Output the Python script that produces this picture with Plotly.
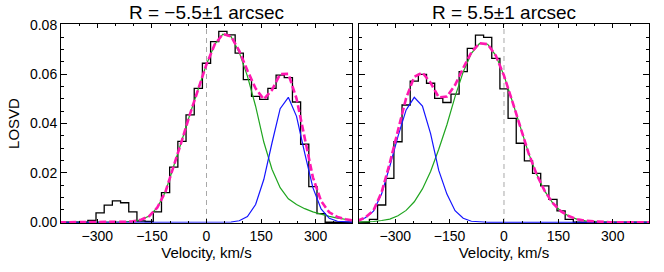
import plotly.graph_objects as go

# Velocity bin centres (km/s)
velocity = [-405.0, -382.5, -360.0, -337.5, -315.0, -292.5, -270.0, -247.5, -225.0,
            -202.5, -180.0, -157.5, -135.0, -112.5, -90.0, -67.5, -45.0, -22.5, 0.0,
            22.5, 45.0, 67.5, 90.0, 112.5, 135.0, 157.5, 180.0, 202.5, 225.0,
            247.5, 270.0, 292.5, 315.0, 337.5, 360.0, 382.5, 405.0]

# Left panel (R = -5.5 arcsec)
left_hist = [0, 0, 0, 0, 0.0008, 0.0038, 0.0069, 0.0087, 0.0079,
             0.0042, 0.0005, 0.0003, 0.0042, 0.0120, 0.0223, 0.0328, 0.0435, 0.0542, 0.0644,
             0.0732, 0.0773, 0.0759, 0.0685, 0.0578, 0.0510, 0.0498, 0.0542, 0.0596, 0.0586,
             0.0487, 0.0316, 0.0144, 0.0035, 0, 0, 0, 0]
left_main = [0, 0, 0, 0, 0, 0, 0.0000, 0.0001, 0.0002,
             0.0004, 0.0010, 0.0025, 0.0060, 0.0125, 0.0225, 0.0332, 0.0440, 0.0545, 0.0640,
             0.0720, 0.0762, 0.0752, 0.0688, 0.0592, 0.0470, 0.0325, 0.0215, 0.0140, 0.0095,
             0.0072, 0.0055, 0.0042, 0.0032, 0.0024, 0.0017, 0.0011, 0.0007]
left_second = [0, 0, 0, 0, 0, 0, 0, 0, 0,
               0, 0, 0, 0, 0, 0, 0, 0, 0, 0,
               0, 0, 0.0001, 0.0006, 0.0023, 0.0072, 0.0173, 0.0321, 0.0460, 0.0506,
               0.0429, 0.0280, 0.0140, 0.0054, 0.0016, 0.0004, 0.0001, 0]
left_total = [0, 0, 0, 0, 0, 0, 0.0000, 0.0001, 0.0002,
              0.0004, 0.0010, 0.0025, 0.0060, 0.0125, 0.0225, 0.0332, 0.0440, 0.0545, 0.0640,
              0.0720, 0.0762, 0.0753, 0.0694, 0.0615, 0.0542, 0.0498, 0.0536, 0.0600, 0.0601,
              0.0501, 0.0335, 0.0182, 0.0086, 0.0040, 0.0021, 0.0012, 0.0007]

# Right panel (R = 5.5 arcsec)
right_hist = [0, 0, 0.0012, 0.0070, 0.0178, 0.0326, 0.0475, 0.0572, 0.0599,
              0.0563, 0.0502, 0.0485, 0.0519, 0.0610, 0.0704, 0.0758, 0.0749, 0.0664, 0.0540,
              0.0421, 0.0320, 0.0249, 0.0198, 0.0147, 0.0093, 0.0046, 0.0012, 0, 0,
              0, 0, 0, 0, 0, 0, 0, 0]
right_main = [0.0000, 0.0001, 0.0003, 0.0007, 0.0013, 0.0026, 0.0048, 0.0083, 0.0135,
              0.0206, 0.0296, 0.0395, 0.0509, 0.0609, 0.0684, 0.0724, 0.0721, 0.0675, 0.0594,
              0.0492, 0.0384, 0.0281, 0.0194, 0.0126, 0.0077, 0.0044, 0.0024, 0.0012, 0.0006,
              0.0003, 0.0001, 0, 0, 0, 0, 0, 0]
right_second = [0.0005, 0.0018, 0.0045, 0.0115, 0.0227, 0.0348, 0.0455, 0.0506, 0.0471,
                0.0359, 0.0210, 0.0114, 0.0047, 0.0016, 0.0004, 0.0001, 0, 0, 0,
                0, 0, 0, 0, 0, 0, 0, 0, 0, 0,
                0, 0, 0, 0, 0, 0, 0, 0]
right_total = [0.0005, 0.0019, 0.0048, 0.0122, 0.0240, 0.0374, 0.0503, 0.0589, 0.0606,
               0.0565, 0.0506, 0.0509, 0.0556, 0.0625, 0.0688, 0.0725, 0.0721, 0.0675, 0.0594,
               0.0492, 0.0384, 0.0281, 0.0194, 0.0126, 0.0077, 0.0044, 0.0024, 0.0012, 0.0006,
               0.0003, 0.0001, 0, 0, 0, 0, 0, 0]

panel_titles = ["R = \u22125.5\u00b11 arcsec", "R = 5.5\u00b11 arcsec"]
x_title = "Velocity, km/s"
y_title = "LOSVD"

FONT = "Liberation Sans, Arial, Helvetica, sans-serif"
GREEN = "#1FA51F"
BLUE = "#1414FF"
MAGENTA = "#FF18B0"

fig = go.Figure()
panels = [
    (left_hist, left_main, left_second, left_total, "x", "y"),
    (right_hist, right_main, right_second, right_total, "x2", "y2"),
]
for hist, main, second, total, xa, ya in panels:
    fig.add_trace(go.Scatter(x=velocity, y=hist, mode="lines",
                             line=dict(color="black", width=1.3, shape="hvh"),
                             xaxis=xa, yaxis=ya, showlegend=False, hoverinfo="skip"))
    fig.add_trace(go.Scatter(x=velocity, y=main, mode="lines",
                             line=dict(color=GREEN, width=1.2),
                             xaxis=xa, yaxis=ya, showlegend=False, hoverinfo="skip"))
    fig.add_trace(go.Scatter(x=velocity, y=second, mode="lines",
                             line=dict(color=BLUE, width=1.2),
                             xaxis=xa, yaxis=ya, showlegend=False, hoverinfo="skip"))
    fig.add_trace(go.Scatter(x=velocity, y=total, mode="lines",
                             line=dict(color=MAGENTA, width=2.6, dash="7px,3px"),
                             xaxis=xa, yaxis=ya, showlegend=False, hoverinfo="skip"))
    fig.add_shape(type="line", xref=xa, yref=f"{ya} domain", x0=0, x1=0, y0=0, y1=1,
                  line=dict(color="#A8A8A8", width=1, dash="5px,4px"), layer="below")

xcommon = dict(range=[-400, 400], tick0=0, dtick=150, ticks="inside", ticklen=4,
               tickwidth=1, tickcolor="black", automargin=False,
               minor=dict(tick0=0, dtick=50, ticks="inside", ticklen=2, tickcolor="black"),
               showline=True, linecolor="black", linewidth=1, mirror="allticks",
               showgrid=False, zeroline=False,
               tickfont=dict(family=FONT, size=14, color="black"),
               title=dict(text=x_title, font=dict(family=FONT, size=15, color="black"),
                          standoff=2))
ycommon = dict(range=[-0.0003, 0.0803], tick0=0, dtick=0.02, tickformat=".2f",
               ticks="inside", ticklen=6, tickwidth=1, tickcolor="black", automargin=False,
               minor=dict(tick0=0, dtick=0.005, ticks="inside", ticklen=3, tickcolor="black"),
               showline=True, linecolor="black", linewidth=1, mirror="allticks",
               showgrid=False, zeroline=False,
               tickfont=dict(family=FONT, size=14, color="black"))

fig.update_layout(
    width=664, height=272,
    margin=dict(l=61, r=15, t=24, b=49, autoexpand=False),
    paper_bgcolor="white", plot_bgcolor="white",
    xaxis=dict(domain=[0, 0.4949], anchor="y", **xcommon),
    xaxis2=dict(domain=[0.5068, 1], anchor="y2", **xcommon),
    yaxis=dict(domain=[0, 1], anchor="x",
               title=dict(text=y_title, font=dict(family=FONT, size=15, color="black"),
                          standoff=6),
               **ycommon),
    yaxis2=dict(domain=[0, 1], anchor="x2", showticklabels=False, **ycommon),
)

for i, t in enumerate(panel_titles):
    fig.add_annotation(text=t, xref=("x domain" if i == 0 else "x2 domain"), x=0.5,
                       yref="paper", y=1.06, yanchor="middle", xanchor="center",
                       showarrow=False, font=dict(family=FONT, size=19, color="black"))

# Remove the browser's default page margin so the figure sits at the window's top-left.
fig.write_html("out.html",
               config={"displayModeBar": False, "staticPlot": True},
               post_script="document.body.style.margin='0';document.body.style.padding='0';")
